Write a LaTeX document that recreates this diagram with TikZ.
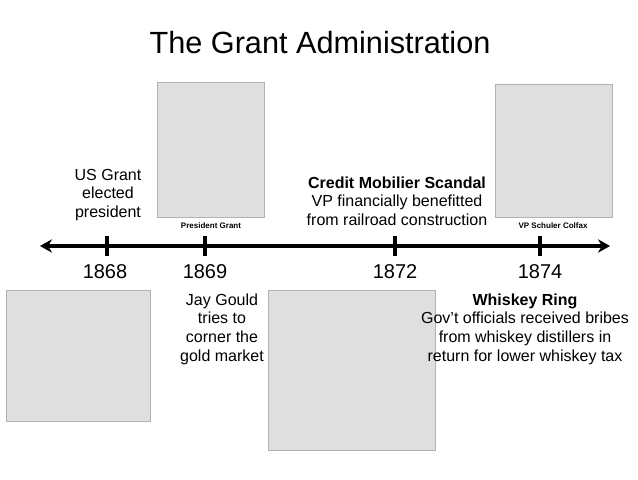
\documentclass[tikz,border=0pt]{standalone}
\usepackage{fontspec}
\setmainfont{Liberation Sans}
\usetikzlibrary{arrows.meta}
\begin{document}
\begin{tikzpicture}[x=0.75pt,y=-0.75pt,
  txt/.style={font=\fontsize{12}{14}\selectfont,align=center,inner sep=0},
  yr/.style={font=\fontsize{15}{17}\selectfont,inner sep=0},
  captxt/.style={font=\bfseries\fontsize{6}{7}\selectfont,inner sep=0},
  pic/.style={draw=gray!60,fill=gray!25}]
\useasboundingbox (0,0) rectangle (638,479);
\node[inner sep=0,font=\fontsize{23}{26}\selectfont] (title) at (320,43) {The Grant Administration};
\coordinate (L) at (40,246); \coordinate (R) at (610,246);
\draw[line width=2.5pt,{Stealth[length=9pt,width=10pt]}-{Stealth[length=9pt,width=10pt]}] (L) -- (R);
\foreach \x in {107,205,395,540}{\draw[line width=2.5pt] (\x,236) -- (\x,256);}
\node[yr] (y1) at (105,272) {1868};
\node[yr] (y2) at (205,272) {1869};
\node[yr] (y3) at (395,272) {1872};
\node[yr] (y4) at (540,272) {1874};
\node[txt] (e1) at (108,195) {US Grant\\elected\\president};
\node[pic,minimum width=80pt,minimum height=101pt] (p1) at (211,150) {};
\node[captxt] (c1) at (211,226) {President Grant};
\node[txt] (cm) at (397,201) {\textbf{Credit Mobilier Scandal}\\VP financially benefitted\\from railroad construction};
\node[pic,minimum width=88pt,minimum height=100pt] (p2) at (554,151) {};
\node[captxt] (c2) at (553,226) {VP Schuler Colfax};
\node[pic,minimum width=108pt,minimum height=98pt] (p3) at (78,356) {};
\node[txt] (jg) at (222,329) {Jay Gould\\tries to\\corner the\\gold market};
\node[pic,minimum width=125pt,minimum height=120pt] (p4) at (352,370) {};
\node[txt] (wr) at (525,329) {\textbf{Whiskey Ring}\\Gov't officials received bribes\\from whiskey distillers in\\return for lower whiskey tax};
\end{tikzpicture}
\end{document}
